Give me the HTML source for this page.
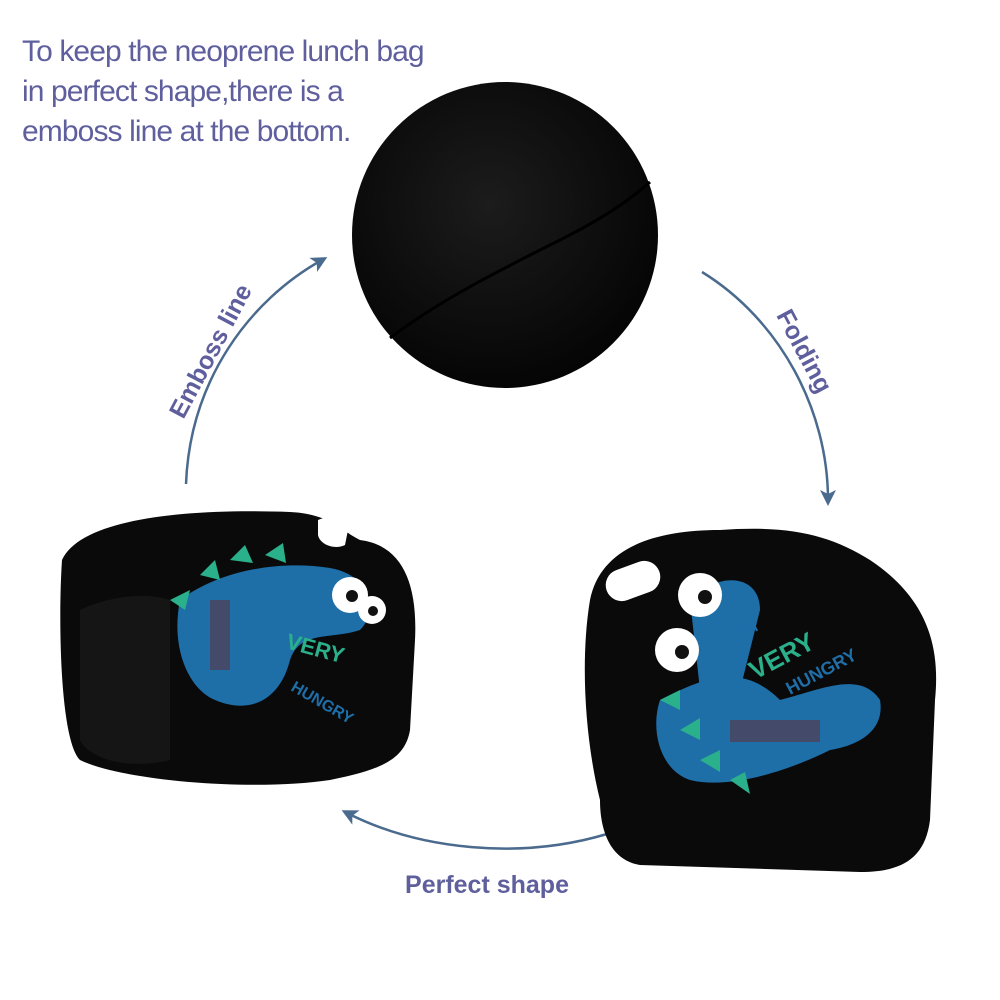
<!DOCTYPE html>
<html><head><meta charset="utf-8"><style>
html,body{margin:0;padding:0;background:#fff;width:1000px;height:1000px;overflow:hidden}
.t{position:absolute;left:22px;top:32px;font-family:"Liberation Sans",sans-serif;font-size:30px;line-height:40px;color:#5f5f9e;letter-spacing:-0.9px}
</style></head><body>
<div class="t">To keep the neoprene lunch bag<br>in perfect shape,there is a<br>emboss line at the bottom.</div>
<svg width="1000" height="1000" style="position:absolute;left:0;top:0">
<defs>
<marker id="a" markerWidth="18" markerHeight="18" refX="10" refY="8" orient="auto" markerUnits="userSpaceOnUse">
<path d="M0,0 L16,8 L0,16 L4,8 Z" fill="#4a6a8e"/></marker>
<radialGradient id="g" cx="45%" cy="40%" r="60%"><stop offset="0" stop-color="#1c1c1c"/><stop offset="1" stop-color="#050505"/></radialGradient>
</defs>
<circle cx="505" cy="235" r="153" fill="url(#g)"/>
<path d="M390,338 C440,300 500,270 560,240 C600,220 630,200 650,182" stroke="#000" stroke-width="3" fill="none"/>
<g stroke="#4a6a8e" stroke-width="2.5" fill="none">
<path d="M186,484 C190,380 250,300 322,260" marker-end="url(#a)"/>
<path d="M702,272 C780,320 828,410 828,500" marker-end="url(#a)"/>
<path d="M607,834 C520,860 420,850 347,813" marker-end="url(#a)"/>
</g>
<g font-family="Liberation Sans,sans-serif" font-weight="bold" font-size="25" fill="#5f5f9e">
<text transform="translate(218,355) rotate(-62)" text-anchor="middle">Emboss line</text>
<text transform="translate(797,355) rotate(62)" text-anchor="middle">Folding</text>
<text x="487" y="893" text-anchor="middle">Perfect shape</text>
</g>
<!-- left bag -->
<path d="M62,560 C80,520 180,508 290,512 C330,514 340,530 360,540 C400,545 418,580 415,640 L410,730 C405,760 380,770 330,780 C250,792 120,780 80,760 C60,740 58,620 62,560 Z" fill="#0a0a0a"/>
<path d="M80,610 C100,600 140,590 170,600 L170,760 C130,770 90,760 80,740 Z" fill="#151515"/>
<path d="M318,520 C330,515 345,518 348,530 L345,545 C335,550 320,545 318,535Z" fill="#fff"/>
<path d="M180,600 C220,570 280,560 330,568 C370,575 380,610 360,630 C330,640 300,630 290,660 C280,700 250,715 215,700 C190,690 170,650 180,600Z" fill="#1e6ea8"/>
<g fill="#2ab08a"><path d="M170,600 l20,-10 l-5,20z M200,575 l15,-15 l5,20z M230,560 l15,-15 l8,18z M265,555 l18,-12 l3,20z"/></g>
<rect x="210" y="600" width="20" height="70" fill="#444a6a"/>
<circle cx="350" cy="595" r="18" fill="#fff"/><circle cx="372" cy="610" r="14" fill="#fff"/>
<circle cx="352" cy="596" r="6" fill="#111"/><circle cx="373" cy="611" r="5" fill="#111"/>
<text x="285" y="648" font-family="Liberation Sans" font-weight="bold" font-size="22" fill="#2ab08a" transform="rotate(15 285 648)">VERY</text>
<text x="290" y="690" font-family="Liberation Sans" font-weight="bold" font-size="16" fill="#1e6ea8" transform="rotate(30 290 690)">HUNGRY</text>
<!-- right bag -->
<path d="M590,600 C600,550 650,530 720,530 C790,525 830,535 870,560 C930,600 940,650 935,700 L930,820 C925,860 900,872 860,872 L640,865 C610,860 600,830 600,800 C585,740 580,660 590,600 Z" fill="#0a0a0a"/>
<rect x="605" y="565" width="56" height="32" rx="16" fill="#fff" transform="rotate(-20 633 581)"/>
<path d="M660,700 C700,680 740,660 780,700 C820,690 860,670 880,700 C885,730 860,745 830,750 C790,770 730,790 690,780 C660,770 650,730 660,700Z" fill="#1e6ea8"/>
<path d="M690,600 C720,570 760,575 760,610 L740,690 L700,690 Z" fill="#1e6ea8"/>
<g fill="#2ab08a"><path d="M660,700 l20,-10 l0,20z M680,730 l20,-12 l0,22z M700,760 l20,-10 l0,22z M730,780 l15,-8 l5,22z"/></g>
<rect x="730" y="720" width="90" height="22" fill="#444a6a"/>
<circle cx="700" cy="595" r="22" fill="#fff"/><circle cx="677" cy="650" r="22" fill="#fff"/>
<circle cx="705" cy="597" r="7" fill="#111"/><circle cx="682" cy="652" r="7" fill="#111"/>
<text x="740" y="640" font-family="Liberation Sans" font-weight="bold" font-size="16" fill="#1e6ea8" transform="rotate(-28 740 640)">I'M</text>
<text x="755" y="680" font-family="Liberation Sans" font-weight="bold" font-size="26" fill="#2ab08a" transform="rotate(-28 755 680)">VERY</text>
<text x="790" y="695" font-family="Liberation Sans" font-weight="bold" font-size="18" fill="#1e6ea8" transform="rotate(-28 790 695)">HUNGRY</text>
</svg>
</body></html>
